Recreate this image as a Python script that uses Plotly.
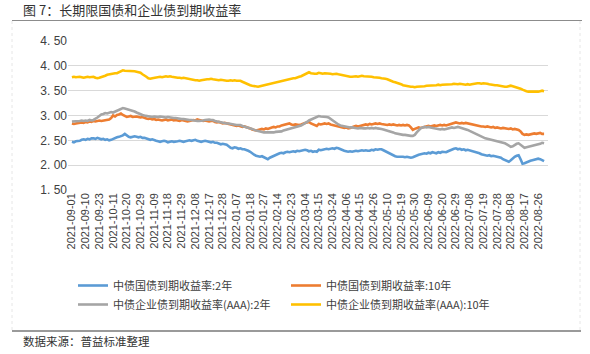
import pandas as pd
import plotly.graph_objects as go

# ---------------- data ----------------
HOLIDAYS = ["2021-09-20", "2021-09-21", "2021-10-01", "2021-10-04", "2021-10-05",
            "2021-10-06", "2021-10-07", "2022-01-03", "2022-01-31", "2022-02-01",
            "2022-02-02", "2022-02-03", "2022-02-04", "2022-04-04", "2022-04-05",
            "2022-05-02", "2022-05-03", "2022-05-04", "2022-06-03"]
dates = pd.bdate_range("2021-09-01", "2022-08-31", freq="C", holidays=HOLIDAYS)
categories = [d.strftime("%Y-%m-%d") for d in dates]

tick_labels = ["2021-09-01", "2021-09-10", "2021-09-23", "2021-10-11", "2021-10-20",
               "2021-10-29", "2021-11-09", "2021-11-18", "2021-11-29", "2021-12-08",
               "2021-12-17", "2021-12-28", "2022-01-07", "2022-01-18", "2022-01-27",
               "2022-02-14", "2022-02-23", "2022-03-04", "2022-03-15", "2022-03-24",
               "2022-04-06", "2022-04-15", "2022-04-26", "2022-05-10", "2022-05-19",
               "2022-05-30", "2022-06-09", "2022-06-20", "2022-06-29", "2022-07-08",
               "2022-07-19", "2022-07-28", "2022-08-08", "2022-08-17", "2022-08-26"]

y_ticks = [1.5, 2.0, 2.5, 3.0, 3.5, 4.0, 4.5]
y_tick_text = ["1. 50", "2. 00", "2. 50", "3. 00", "3. 50", "4. 00", "4. 50"]

gov_2y = [
    2.47, 2.46, 2.48, 2.48, 2.49, 2.51, 2.52, 2.51, 2.53, 2.52,
    2.54, 2.54, 2.53, 2.55, 2.54, 2.52, 2.53, 2.51, 2.52, 2.50,
    2.51, 2.53, 2.54, 2.56, 2.57, 2.58, 2.60, 2.63, 2.60, 2.57,
    2.56, 2.57, 2.58, 2.57, 2.56, 2.57, 2.55, 2.55, 2.54, 2.52,
    2.51, 2.52, 2.50, 2.49, 2.48, 2.47, 2.48, 2.49, 2.48, 2.46,
    2.47, 2.48, 2.47, 2.47, 2.48, 2.49, 2.48, 2.47, 2.48, 2.49,
    2.50, 2.49, 2.50, 2.51, 2.49, 2.48, 2.47, 2.48, 2.49, 2.48,
    2.47, 2.46, 2.47, 2.45, 2.45, 2.44, 2.42, 2.43, 2.42, 2.41,
    2.38, 2.35, 2.34, 2.36, 2.35, 2.33, 2.34, 2.32, 2.32, 2.31,
    2.29, 2.27, 2.23, 2.21, 2.19, 2.18, 2.17, 2.18, 2.16, 2.14,
    2.12, 2.15, 2.17, 2.19, 2.21, 2.22, 2.24, 2.25, 2.24, 2.26,
    2.27, 2.26, 2.27, 2.28, 2.27, 2.29, 2.28, 2.29, 2.30, 2.31,
    2.30, 2.28, 2.29, 2.27, 2.28, 2.27, 2.31, 2.30, 2.31, 2.32,
    2.33, 2.32, 2.33, 2.34, 2.33, 2.35, 2.34, 2.32, 2.31, 2.29,
    2.28, 2.27, 2.28, 2.27, 2.28, 2.29, 2.28, 2.29, 2.30, 2.29,
    2.30, 2.29, 2.29, 2.31, 2.30, 2.32, 2.31, 2.32, 2.32, 2.30,
    2.28, 2.26, 2.23, 2.21, 2.19, 2.18, 2.17, 2.17, 2.18, 2.17,
    2.16, 2.17, 2.16, 2.15, 2.16, 2.18, 2.20, 2.21, 2.22, 2.23,
    2.24, 2.23, 2.25, 2.24, 2.26, 2.25, 2.24, 2.26, 2.25, 2.27,
    2.26, 2.26, 2.28, 2.30, 2.32, 2.33, 2.34, 2.32, 2.33, 2.31,
    2.32, 2.30, 2.31, 2.30, 2.29, 2.28, 2.26, 2.25, 2.24, 2.22,
    2.21, 2.20, 2.19, 2.20, 2.18, 2.19, 2.18, 2.17, 2.17, 2.15,
    2.12, 2.10, 2.08, 2.07, 2.10, 2.14, 2.17, 2.19, 2.20, 2.12,
    2.03, 2.04, 2.06, 2.07, 2.09, 2.10, 2.11, 2.12, 2.13, 2.12,
    2.10, 2.08]

gov_10y = [
    2.84, 2.83, 2.84, 2.85, 2.85, 2.86, 2.85, 2.87, 2.86, 2.88,
    2.87, 2.89, 2.88, 2.89, 2.90, 2.89, 2.90, 2.91, 2.91, 2.92,
    2.95, 3.00, 2.98, 3.01, 3.02, 3.04, 3.01, 2.99, 2.97, 2.98,
    2.99, 2.97, 2.98, 2.98, 2.97, 2.96, 2.97, 2.95, 2.94, 2.93,
    2.94, 2.92, 2.93, 2.91, 2.92, 2.91, 2.90, 2.91, 2.92, 2.90,
    2.91, 2.92, 2.90, 2.91, 2.90, 2.89, 2.91, 2.90, 2.89, 2.88,
    2.89, 2.90, 2.91, 2.90, 2.92, 2.91, 2.90, 2.89, 2.90, 2.89,
    2.88, 2.89, 2.89, 2.87, 2.86, 2.87, 2.85, 2.84, 2.85, 2.84,
    2.82, 2.81, 2.81, 2.80, 2.79, 2.80, 2.78, 2.77, 2.78, 2.77,
    2.75, 2.74, 2.72, 2.71, 2.70, 2.71, 2.72, 2.73, 2.72, 2.74,
    2.73, 2.75, 2.76, 2.77, 2.76, 2.78, 2.78, 2.80, 2.81, 2.82,
    2.83, 2.84, 2.82, 2.81, 2.82, 2.81, 2.81, 2.82, 2.84, 2.85,
    2.86, 2.87, 2.84, 2.82, 2.80, 2.79, 2.83, 2.82, 2.83, 2.84,
    2.83, 2.84, 2.82, 2.81, 2.80, 2.79, 2.78, 2.77, 2.76, 2.75,
    2.76, 2.74, 2.75, 2.77, 2.78, 2.79, 2.78, 2.79, 2.80, 2.81,
    2.82, 2.81, 2.83, 2.82, 2.83, 2.84, 2.83, 2.84, 2.83, 2.82,
    2.82, 2.81, 2.82, 2.81, 2.82, 2.81, 2.80, 2.81, 2.80, 2.81,
    2.80, 2.81, 2.80, 2.76, 2.71, 2.73, 2.75, 2.76, 2.75, 2.76,
    2.77, 2.78, 2.79, 2.78, 2.79, 2.80, 2.79, 2.80, 2.81, 2.80,
    2.81, 2.80, 2.81, 2.82, 2.83, 2.84, 2.86, 2.85, 2.84, 2.85,
    2.84, 2.85, 2.84, 2.83, 2.83, 2.82, 2.81, 2.80, 2.79, 2.78,
    2.78, 2.77, 2.78, 2.77, 2.76, 2.77, 2.75, 2.76, 2.75, 2.74,
    2.75, 2.74, 2.74, 2.73, 2.74, 2.72, 2.73, 2.72, 2.71, 2.68,
    2.63, 2.61, 2.62, 2.61, 2.62, 2.63, 2.64, 2.63, 2.64, 2.65,
    2.63, 2.63]

corp_2y = [
    2.88, 2.88, 2.89, 2.88, 2.89, 2.90, 2.89, 2.90, 2.89, 2.91,
    2.90, 2.91, 2.93, 2.96, 2.99, 3.02, 3.03, 3.05, 3.04, 3.06,
    3.07, 3.06, 3.08, 3.10, 3.12, 3.14, 3.15, 3.14, 3.13, 3.12,
    3.11, 3.10, 3.08, 3.06, 3.04, 3.03, 3.01, 3.00, 2.99, 2.98,
    2.98, 2.97, 2.98, 2.97, 2.97, 2.98, 2.97, 2.97, 2.96, 2.97,
    2.96, 2.96, 2.95, 2.95, 2.94, 2.94, 2.93, 2.93, 2.92, 2.92,
    2.91, 2.91, 2.90, 2.90, 2.89, 2.89, 2.89, 2.90, 2.91, 2.92,
    2.92, 2.91, 2.91, 2.89, 2.88, 2.87, 2.86, 2.85, 2.85, 2.84,
    2.84, 2.83, 2.82, 2.82, 2.81, 2.81, 2.81, 2.79, 2.78, 2.76,
    2.75, 2.74, 2.73, 2.71, 2.70, 2.68, 2.67, 2.67, 2.66, 2.66,
    2.66, 2.65, 2.66, 2.66, 2.67, 2.67, 2.67, 2.68, 2.70, 2.71,
    2.72, 2.73, 2.74, 2.75, 2.76, 2.77, 2.78, 2.80, 2.82, 2.84,
    2.87, 2.90, 2.92, 2.94, 2.96, 2.98, 2.99, 2.98, 2.98, 2.97,
    2.97, 2.96, 2.93, 2.90, 2.87, 2.84, 2.82, 2.80, 2.79, 2.78,
    2.77, 2.77, 2.76, 2.76, 2.75, 2.75, 2.74, 2.75, 2.74, 2.74,
    2.74, 2.75, 2.74, 2.75, 2.74, 2.75, 2.74, 2.74, 2.73, 2.72,
    2.71, 2.70, 2.69, 2.67, 2.66, 2.64, 2.63, 2.63, 2.62, 2.61,
    2.61, 2.60, 2.60, 2.59, 2.59, 2.61, 2.66, 2.71, 2.74, 2.76,
    2.77, 2.76, 2.77, 2.76, 2.75, 2.74, 2.74, 2.73, 2.72, 2.73,
    2.72, 2.73, 2.74, 2.75, 2.76, 2.75, 2.76, 2.77, 2.76, 2.75,
    2.74, 2.73, 2.71, 2.69, 2.67, 2.65, 2.63, 2.61, 2.59, 2.57,
    2.55, 2.54, 2.53, 2.52, 2.52, 2.51, 2.50, 2.49, 2.48, 2.47,
    2.46, 2.44, 2.42, 2.39, 2.37, 2.38, 2.41, 2.43, 2.44, 2.41,
    2.37, 2.35, 2.36, 2.37, 2.38, 2.39, 2.40, 2.41, 2.41, 2.43,
    2.45, 2.44]

corp_10y = [
    3.77, 3.78, 3.77, 3.78, 3.78, 3.77, 3.76, 3.77, 3.78, 3.77,
    3.77, 3.78, 3.76, 3.75, 3.76, 3.77, 3.79, 3.80, 3.82, 3.83,
    3.83, 3.84, 3.85, 3.85, 3.87, 3.90, 3.91, 3.90, 3.90, 3.89,
    3.90, 3.89, 3.89, 3.88, 3.87, 3.86, 3.83, 3.81, 3.78, 3.75,
    3.74, 3.75, 3.76, 3.76, 3.77, 3.78, 3.77, 3.78, 3.79, 3.78,
    3.79, 3.78, 3.77, 3.77, 3.76, 3.76, 3.75, 3.76, 3.75, 3.74,
    3.73, 3.72, 3.72, 3.71, 3.71, 3.70, 3.71, 3.72, 3.72, 3.73,
    3.73, 3.74, 3.73, 3.72, 3.72, 3.71, 3.72, 3.71, 3.71, 3.70,
    3.70, 3.71, 3.70, 3.71, 3.70, 3.70, 3.70, 3.68, 3.66, 3.64,
    3.62, 3.61, 3.60, 3.59, 3.58, 3.58, 3.59, 3.60, 3.61, 3.62,
    3.62, 3.63, 3.64, 3.65, 3.66, 3.67, 3.68, 3.69, 3.70, 3.71,
    3.72, 3.73, 3.74, 3.75, 3.75, 3.77, 3.78, 3.79, 3.81, 3.83,
    3.85, 3.87, 3.85, 3.84, 3.84, 3.84, 3.86, 3.85, 3.84, 3.85,
    3.85, 3.84, 3.84, 3.83, 3.84, 3.84, 3.83, 3.82, 3.82, 3.81,
    3.80, 3.79, 3.78, 3.78, 3.79, 3.79, 3.78, 3.79, 3.80, 3.79,
    3.79, 3.79, 3.78, 3.78, 3.77, 3.77, 3.76, 3.76, 3.75, 3.75,
    3.74, 3.73, 3.71, 3.70, 3.68, 3.67, 3.66, 3.64, 3.63, 3.61,
    3.60, 3.59, 3.59, 3.58, 3.58, 3.57, 3.58, 3.58, 3.59, 3.58,
    3.59, 3.60, 3.60, 3.61, 3.60, 3.61, 3.61, 3.62, 3.61, 3.62,
    3.62, 3.63, 3.62, 3.63, 3.63, 3.64, 3.63, 3.63, 3.64, 3.63,
    3.63, 3.62, 3.63, 3.62, 3.63, 3.64, 3.64, 3.65, 3.65, 3.64,
    3.65, 3.65, 3.64, 3.63, 3.62, 3.62, 3.61, 3.61, 3.60, 3.59,
    3.59, 3.58, 3.58, 3.59, 3.60, 3.59, 3.58, 3.57, 3.56, 3.54,
    3.52, 3.50, 3.49, 3.48, 3.48, 3.47, 3.48, 3.48, 3.48, 3.49,
    3.50, 3.49]

series_names = ["中债国债到期收益率:2年", "中债国债到期收益率:10年",
                "中债企业债到期收益率(AAA):2年", "中债企业债到期收益率(AAA):10年"]
series_values = [gov_2y, gov_10y, corp_2y, corp_10y]
series_colors = ["#5B9BD5", "#ED7D31", "#A5A5A5", "#FFC000"]

title_text = "图 7：长期限国债和企业债到期收益率"
source_text = "数据来源：普益标准整理"

# ---------------- layout geometry (pixels) ----------------
W, H = 590, 354
PL, PR, PT, PB = 68, 548, 41, 190   # plot area edges


def px_x(px):
    return (px - PL) / (PR - PL)


def px_y(py):
    return (PB - py) / (PB - PT)


CJK = "Noto Sans CJK SC"
LAT = "Liberation Sans, Arial"

fig = go.Figure()
for name, vals, col in zip(series_names, series_values, series_colors):
    fig.add_trace(go.Scatter(x=categories, y=vals, mode="lines", name=name,
                             line=dict(color=col, width=2.6), hoverinfo="skip"))

shapes = [
    dict(type="line", xref="paper", yref="paper", x0=px_x(12), x1=px_x(582),
         y0=px_y(20.5), y1=px_y(20.5), line=dict(color="#8c8c8c", width=1.2)),
    dict(type="line", xref="paper", yref="paper", x0=px_x(12), x1=px_x(581),
         y0=px_y(331), y1=px_y(331), line=dict(color="#9a9a9a", width=2)),
    dict(type="line", xref="paper", yref="paper", x0=px_x(12), x1=px_x(12),
         y0=px_y(21), y1=px_y(330), line=dict(color="#e6e6e6", width=1, dash="dot")),
    dict(type="line", xref="paper", yref="paper", x0=px_x(580), x1=px_x(580),
         y0=px_y(21), y1=px_y(330), line=dict(color="#e6e6e6", width=1, dash="dot")),
]

annotations = [
    dict(text=title_text, xref="paper", yref="paper", x=px_x(21), y=px_y(10),
         xanchor="left", yanchor="middle", showarrow=False,
         font=dict(family=CJK, size=13, color="#333333")),
    dict(text=source_text, xref="paper", yref="paper", x=px_x(21), y=px_y(341),
         xanchor="left", yanchor="middle", showarrow=False,
         font=dict(family=CJK, size=11.5, color="#333333")),
]

fig.update_layout(
    width=W, height=H,
    margin=dict(l=PL, r=W - PR, t=PT, b=H - PB, pad=0),
    paper_bgcolor="white", plot_bgcolor="white",
    showlegend=True,
    legend=dict(orientation="h", xref="container", yref="container",
                x=73 / W, y=1 - 271 / H, xanchor="left", yanchor="top",
                entrywidth=168, entrywidthmode="pixels",
                font=dict(family=CJK, size=11, color="#404040"),
                bgcolor="rgba(0,0,0,0)", tracegroupgap=0, itemwidth=30),
    xaxis=dict(type="category", categoryorder="array", categoryarray=categories,
               range=[-2, len(categories) + 1], tickmode="array",
               tickvals=tick_labels, ticktext=tick_labels, tickangle=-90,
               showgrid=False, zeroline=False, showline=False, ticks="",
               tickfont=dict(family=LAT, size=11, color="#404040")),
    yaxis=dict(range=[1.5, 4.5], tickmode="array", tickvals=y_ticks,
               ticktext=y_tick_text, showgrid=True, gridcolor="#d9d9d9",
               gridwidth=1, zeroline=False, showline=False, ticks="",
               tickfont=dict(family=LAT, size=12, color="#404040")),
    shapes=shapes, annotations=annotations,
)

fig.write_html("out.html")
